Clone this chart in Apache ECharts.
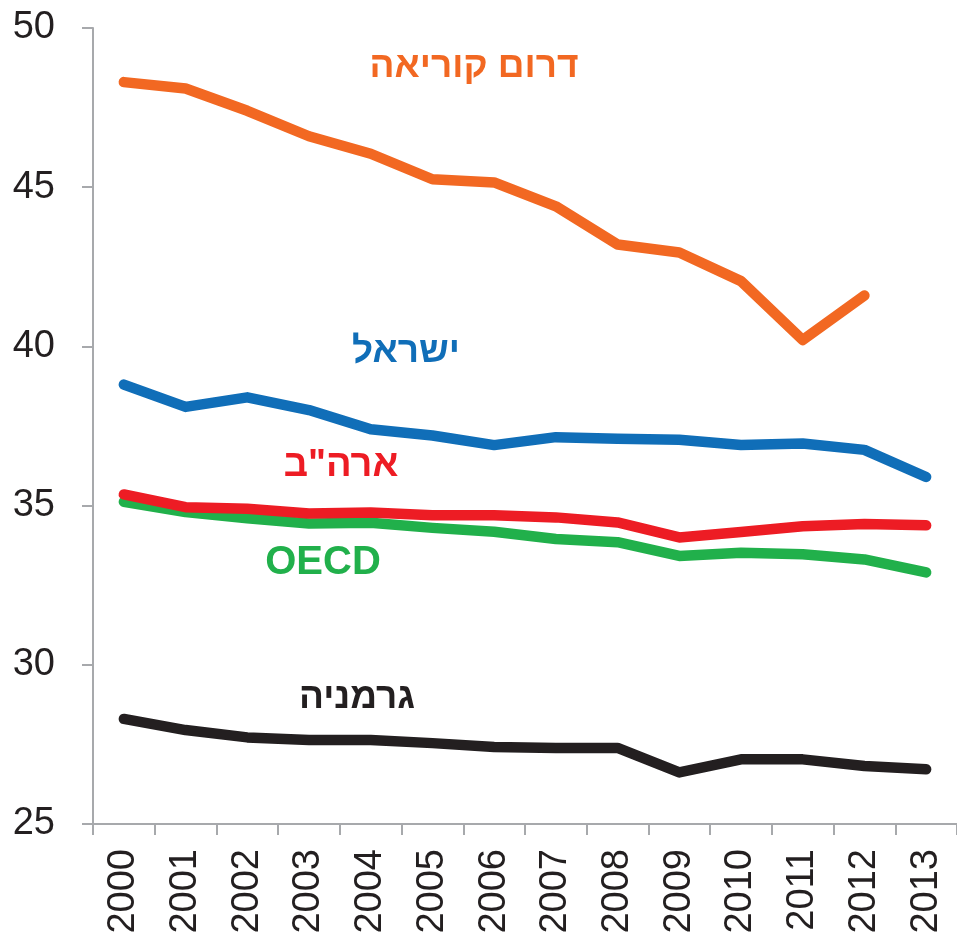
<!DOCTYPE html>
<html>
<head>
<meta charset="utf-8">
<title>chart</title>
<script src="https://cdn.jsdelivr.net/npm/echarts@6/dist/echarts.min.js"></script>
<style>
    html, body { margin: 0; padding: 0; background: #fff; }
    #main { width: 957px; height: 942px; }
</style>
</head>
<body>
<div id="main"></div>
<script>
// data
var years = ['2000', '2001', '2002', '2003', '2004', '2005', '2006', '2007', '2008', '2009', '2010', '2011', '2012', '2013'];
var korea = [48.3, 48.1, 47.4, 46.6, 46.05, 45.25, 45.15, 44.4, 43.2, 42.95, 42.05, 40.2, 41.6, null];
var israel = [38.8, 38.1, 38.4, 38.0, 37.4, 37.2, 36.9, 37.15, 37.1, 37.07, 36.9, 36.95, 36.75, 35.9];
var usa = [35.35, 34.95, 34.9, 34.75, 34.78, 34.7, 34.7, 34.63, 34.47, 34.0, 34.17, 34.35, 34.42, 34.38];
var oecd = [35.12, 34.8, 34.6, 34.44, 34.46, 34.3, 34.18, 33.95, 33.85, 33.42, 33.52, 33.47, 33.31, 32.9];
var germany = [28.3, 27.95, 27.72, 27.64, 27.64, 27.54, 27.42, 27.39, 27.39, 26.62, 27.03, 27.03, 26.82, 26.72];
var yTicks = [25, 30, 35, 40, 45, 50];

var dom = document.getElementById('main');
var myChart = echarts.init(dom, null, { renderer: 'canvas' });
var axisGray = '#a7a9ac';
var txt = '#231f20';

function mkLine(name, data, color) {
    return {
        name: name,
        type: 'line',
        data: data,
        symbol: 'none',
        lineStyle: { color: color, width: 10.5, cap: 'round', join: 'round' },
        animation: false
    };
}

// series labels (Hebrew)
function mkLabel(text, x, y, color, size) {
    return {
        type: 'text',
        x: x,
        y: y,
        style: {
            text: text,
            fill: color,
            font: 'bold ' + size + 'px "Liberation Sans", Arial, sans-serif',
            textAlign: 'center',
            textVerticalAlign: 'middle'
        }
    };
}

var option = {
    backgroundColor: '#fff',
    animation: false,
    grid: { left: 93, top: 28, bottom: 118, right: -7 },
    xAxis: {
        type: 'category',
        data: years,
        boundaryGap: true,
        axisLine: { lineStyle: { color: axisGray, width: 2 } },
        axisTick: { show: true, length: 11, lineStyle: { color: axisGray, width: 2 } },
        axisLabel: {
            rotate: 90,
            margin: 25,
            color: txt,
            fontSize: 38,
            fontFamily: '"Liberation Sans", Arial, sans-serif'
        },
        splitLine: { show: false }
    },
    yAxis: {
        type: 'value',
        min: yTicks[0],
        max: yTicks[yTicks.length - 1],
        interval: 5,
        axisLine: { show: true, lineStyle: { color: axisGray, width: 2 } },
        axisTick: { show: true, length: 11, lineStyle: { color: axisGray, width: 2 } },
        axisLabel: {
            margin: 38,
            color: txt,
            fontSize: 38,
            fontFamily: '"Liberation Sans", Arial, sans-serif'
        },
        splitLine: { show: false }
    },
    graphic: [
        mkLabel('דרום קוריאה', 474, 67, '#f26822', 37),
        mkLabel('ישראל', 406, 352, '#106eb8', 37),
        mkLabel('ארה"ב', 341, 466, '#ed1c24', 38),
        mkLabel('OECD', 323, 563, '#21b04b', 40),
        mkLabel('גרמניה', 357, 698, '#231f20', 37)
    ],
    series: [
        mkLine('גרמניה', germany, '#231f20'),
        mkLine('OECD', oecd, '#21b04b'),
        mkLine('ארה"ב', usa, '#ed1c24'),
        mkLine('ישראל', israel, '#106eb8'),
        mkLine('דרום קוריאה', korea, '#f26822')
    ]
};

if (option && typeof option === 'object') {
    myChart.setOption(option, true);
}
</script>
</body>
</html>
